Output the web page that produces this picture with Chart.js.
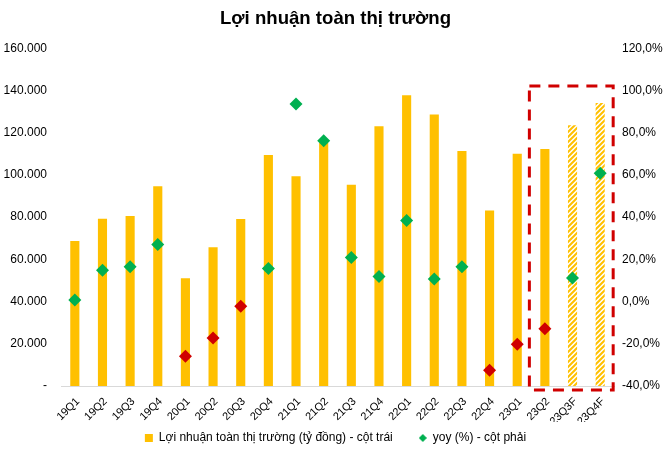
<!DOCTYPE html>
<html>
<head>
<meta charset="utf-8">
<script src="https://cdn.jsdelivr.net/npm/chart.js@4"></script>
<style>
  html, body { margin: 0; padding: 0; background: #fff; }
  #wrap { width: 671px; height: 461px; }
</style>
</head>
<body>
<div id="wrap"><canvas id="chart" width="671" height="461"></canvas></div>
<script>
// Dữ liệu
const quarters = ['19Q1','19Q2','19Q3','19Q4','20Q1','20Q2','20Q3','20Q4','21Q1','21Q2',
                  '21Q3','21Q4','22Q1','22Q2','22Q3','22Q4','23Q1','23Q2','23Q3F','23Q4F'];
const profit = [68700, 79200, 80600, 94600, 51000, 65700, 79100, 109500, 99400, 115200,
                95400, 123100, 137800, 128600, 111400, 83100, 110000, 112300, 123600, 134100];
const yoy = [0.8, 14.9, 16.5, 27.1, -25.9, -17.3, -2.2, 15.7, 93.6, 76.2,
             20.9, 11.9, 38.4, 10.7, 16.5, -32.5, -20.2, -12.9, 11.2, 60.8];
const leftTicks = { min: 0, max: 160000, step: 20000 };
const rightTicks = { min: -40, max: 120, step: 20 };

const ORANGE = '#FFC000';
const GREEN = '#00B050';
const RED = '#D00000';
const FONT = 'Liberation Sans, Arial, sans-serif';

// Họa tiết sọc cho quý dự báo
function makeHatch() {
    const c = document.createElement('canvas');
    c.width = 5; c.height = 5;
    const g = c.getContext('2d');
    g.fillStyle = '#fff';
    g.fillRect(0, 0, 5, 5);
    g.strokeStyle = ORANGE;
    g.lineWidth = 2;
    g.beginPath();
    g.moveTo(-1, 6); g.lineTo(6, -1);
    g.moveTo(-1, 1); g.lineTo(1, -1);
    g.moveTo(4, 6); g.lineTo(6, 4);
    g.stroke();
    return g.createPattern(c, 'repeat');
}
const hatch = makeHatch();

// Hình thoi nhỏ cho chú thích
function makeDiamond(size, color) {
    const c = document.createElement('canvas');
    c.width = size; c.height = size;
    const g = c.getContext('2d');
    const h = size / 2;
    g.fillStyle = color;
    g.beginPath();
    g.moveTo(h, 0); g.lineTo(size, h); g.lineTo(h, size); g.lineTo(0, h);
    g.closePath();
    g.fill();
    return c;
}
const legendDiamond = makeDiamond(8, GREEN);

const fmtThousand = v => v === 0 ? '-' : String(v).replace(/\B(?=(\d{3})+(?!\d))/g, '.');
const fmtPct = v => v.toFixed(1).replace('.', ',') + '%';

// Khung đỏ nét đứt quanh các quý 23Q2 - 23Q4F
const boxPlugin = {
    id: 'forecastBox',
    afterDatasetsDraw(chart) {
        const { ctx, scales } = chart;
        const x = scales.x, yl = scales.y, yr = scales.y1;
        const i0 = quarters.indexOf('23Q2');
        const i1 = quarters.length - 1;
        const left = x.getPixelForValue(i0) - 15.5;
        const right = x.getPixelForValue(i1) + 13;
        const top = yr.getPixelForValue(100) - 4.5;
        const bottom = yl.getPixelForValue(0) + 4;
        ctx.save();
        ctx.strokeStyle = '#D00000';
        ctx.lineWidth = 3;
        ctx.setLineDash([11, 8]);
        ctx.strokeRect(left, top, right - left, bottom - top);
        ctx.restore();
    }
};

// Chú thích: chiều cao cố định, đẩy lên sát nhãn trục
const legendPlugin = {
    id: 'legendPlace',
    beforeLayout(chart) {
        const lg = chart.legend;
        if (lg && !lg._patched) {
            const orig = lg.fit;
            lg.fit = function () { orig.call(this); this.height = 39; };
            lg._patched = true;
        }
    },
    afterLayout(chart) {
        const lg = chart.legend;
        if (lg) { lg.top -= 16; lg.bottom -= 16; }
    }
};

new Chart(document.getElementById('chart'), {
    data: {
        labels: quarters,
        datasets: [{
            type: 'bar',
            label: 'Lợi nhuận toàn thị trường (tỷ đồng) - cột trái',
            data: profit,
            yAxisID: 'y',
            order: 2,
            backgroundColor: quarters.map(q => q.endsWith('F') ? hatch : ORANGE),
            borderWidth: 0,
            barPercentage: 0.33,
            categoryPercentage: 1,
            pointStyle: 'rect'
        }, {
            type: 'line',
            label: 'yoy (%) - cột phải',
            data: yoy,
            yAxisID: 'y1',
            order: 1,
            showLine: false,
            pointStyle: 'rectRot',
            pointRadius: 6.5,
            pointHoverRadius: 6.5,
            pointBorderWidth: 0,
            backgroundColor: GREEN,
            borderColor: GREEN,
            pointBackgroundColor: yoy.map(v => v < 0 ? RED : GREEN),
            pointBorderColor: yoy.map(v => v < 0 ? RED : GREEN)
        }]
    },
    options: {
        responsive: false,
        animation: false,
        layout: { padding: { left: 0, right: 0, top: 0, bottom: 0 } },
        plugins: {
            title: {
                display: true,
                text: 'Lợi nhuận toàn thị trường',
                color: '#000',
                font: { family: FONT, size: 18.6, weight: 'bold' },
                padding: { top: 8, bottom: 18 }
            },
            legend: {
                position: 'bottom',
                reverse: true,
                labels: {
                    usePointStyle: true,
                    boxWidth: 8,
                    boxHeight: 8,
                    padding: 26,
                    color: '#000',
                    font: { family: FONT, size: 12 },
                    generateLabels(chart) {
                        const items = Chart.defaults.plugins.legend.labels.generateLabels(chart);
                        items.forEach(it => {
                            if (it.datasetIndex === 1) it.pointStyle = legendDiamond;
                        });
                        return items;
                    }
                }
            },
            tooltip: { enabled: false }
        },
        scales: {
            x: {
                grid: { display: false, drawTicks: false },
                border: { display: true, color: '#d9d9d9', width: 1 },
                ticks: {
                    color: '#000',
                    minRotation: 45,
                    maxRotation: 45,
                    padding: 9,
                    labelOffset: 3,
                    font: { family: FONT, size: 11 }
                },
                afterFit: s => { s.height = 36; }
            },
            y: {
                position: 'left',
                min: leftTicks.min,
                max: leftTicks.max,
                grid: { display: false, drawTicks: false },
                border: { display: false },
                ticks: {
                    stepSize: leftTicks.step,
                    color: '#000',
                    padding: 14,
                    callback: v => fmtThousand(v),
                    font: { family: FONT, size: 12 }
                },
                afterFit: s => { s.width = 61; }
            },
            y1: {
                position: 'right',
                min: rightTicks.min,
                max: rightTicks.max,
                grid: { display: false, drawTicks: false },
                border: { display: false },
                ticks: {
                    stepSize: rightTicks.step,
                    color: '#000',
                    padding: 8,
                    callback: v => fmtPct(v),
                    font: { family: FONT, size: 12 }
                },
                afterFit: s => { s.width = 57; }
            }
        }
    },
    plugins: [boxPlugin, legendPlugin]
});
</script>
</body>
</html>
